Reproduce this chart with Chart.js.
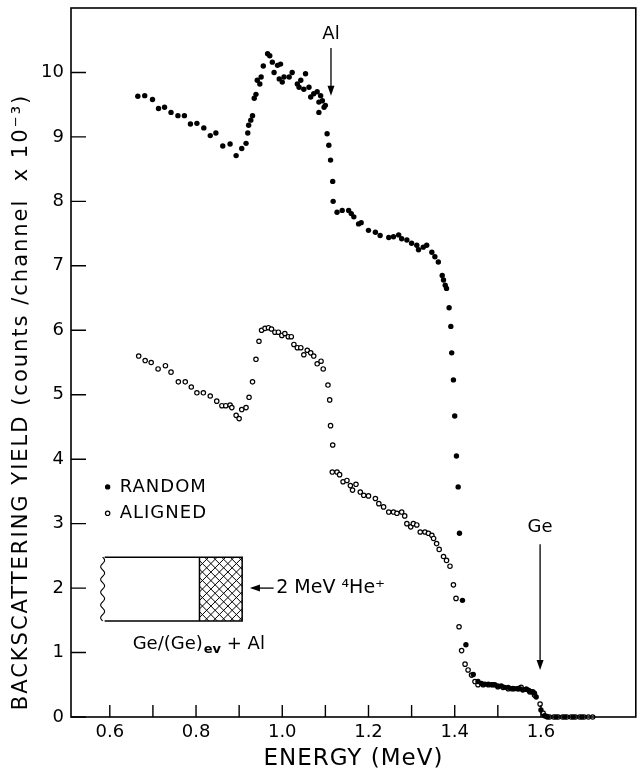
<!DOCTYPE html>
<html>
<head>
<meta charset="utf-8">
<title>Backscattering yield vs energy</title>
<script src="https://cdn.jsdelivr.net/npm/chart.js@4.4.1/dist/chart.umd.min.js"></script>
<style>
  body { margin: 0; background: #fff; }
  canvas { display: block; }
</style>
</head>
<body>
<canvas id="chart" width="641" height="771"></canvas>
<script>
// data //

// random orientation (filled dots)
const randomEnergy = [0.665, 0.681, 0.699, 0.713, 0.727, 0.742, 0.758, 0.773, 0.787, 0.802, 0.818, 0.833, 0.846, 0.862, 0.879, 0.893,
  0.906, 0.916, 0.920, 0.922, 0.927, 0.931, 0.935, 0.939, 0.942, 0.948, 0.951, 0.956, 0.966, 0.971, 0.977, 0.981, 0.989, 0.993,
  0.996, 1.000, 1.004, 1.016, 1.023, 1.035, 1.039, 1.043, 1.050, 1.054, 1.062, 1.066, 1.073, 1.081, 1.085, 1.085, 1.089, 1.093,
  1.097, 1.100, 1.104, 1.108, 1.112, 1.117, 1.118, 1.127, 1.139, 1.154, 1.160, 1.166, 1.177, 1.183, 1.200, 1.216, 1.227, 1.247,
  1.258, 1.270, 1.277, 1.289, 1.300, 1.312, 1.316, 1.327, 1.335, 1.347, 1.354, 1.362, 1.371, 1.374, 1.378, 1.381, 1.387, 1.391,
  1.393, 1.397, 1.400, 1.404, 1.408, 1.411, 1.418, 1.426, 1.443, 1.454, 1.462, 1.470, 1.478, 1.485, 1.493, 1.500, 1.508, 1.516,
  1.524, 1.531, 1.539, 1.547, 1.551, 1.558, 1.566, 1.572, 1.578, 1.585, 1.589, 1.600, 1.608, 1.615, 1.635, 1.655, 1.675, 1.695]
const randomYield = [9.63, 9.64, 9.58, 9.44, 9.46, 9.38, 9.33, 9.33, 9.20, 9.21, 9.14, 9.02, 9.06, 8.86, 8.89, 8.71,
  8.82, 8.90, 9.06, 9.18, 9.26, 9.33, 9.60, 9.66, 9.88, 9.82, 9.93, 10.10, 10.29, 10.26, 10.16, 10.00, 10.11, 9.90,
  10.13, 9.85, 9.93, 9.93, 10.00, 9.82, 9.77, 9.88, 9.74, 9.98, 9.77, 9.62, 9.67, 9.70, 9.54, 9.38, 9.64, 9.56,
  9.46, 9.49, 9.05, 8.87, 8.64, 8.31, 8.00, 7.83, 7.86, 7.86, 7.81, 7.76, 7.65, 7.67, 7.55, 7.52, 7.47, 7.44,
  7.45, 7.48, 7.42, 7.40, 7.35, 7.32, 7.25, 7.29, 7.32, 7.21, 7.14, 7.06, 6.85, 6.78, 6.70, 6.65, 6.35, 6.06,
  5.65, 5.23, 4.67, 4.05, 3.57, 2.85, 1.81, 1.12, 0.66, 0.55, 0.52, 0.51, 0.51, 0.50, 0.50, 0.48, 0.48, 0.46,
  0.46, 0.44, 0.44, 0.44, 0.44, 0.42, 0.43, 0.41, 0.39, 0.37, 0.31, 0.11, 0.02, 0, 0, 0, 0, 0]

// aligned (open circles)
const alignedEnergy = [0.667, 0.682, 0.696, 0.712, 0.729, 0.742, 0.759, 0.775, 0.789, 0.802, 0.817, 0.833, 0.848, 0.860, 0.869, 0.879,
  0.883, 0.893, 0.900, 0.906, 0.916, 0.923, 0.931, 0.939, 0.946, 0.952, 0.960, 0.968, 0.975, 0.983, 0.991, 0.999, 1.006, 1.014,
  1.021, 1.027, 1.035, 1.043, 1.050, 1.058, 1.066, 1.073, 1.081, 1.090, 1.095, 1.106, 1.110, 1.112, 1.117, 1.116, 1.127, 1.133,
  1.141, 1.150, 1.158, 1.163, 1.171, 1.181, 1.189, 1.200, 1.216, 1.224, 1.235, 1.247, 1.258, 1.266, 1.277, 1.284, 1.289, 1.298,
  1.304, 1.312, 1.320, 1.331, 1.339, 1.347, 1.351, 1.358, 1.364, 1.374, 1.381, 1.389, 1.397, 1.403, 1.410, 1.416, 1.424, 1.431,
  1.439, 1.447, 1.454, 1.466, 1.478, 1.489, 1.500, 1.512, 1.524, 1.535, 1.547, 1.554, 1.566, 1.574, 1.581, 1.585, 1.598, 1.605,
  1.612, 1.620, 1.630, 1.640, 1.650, 1.660, 1.670, 1.680, 1.690, 1.700, 1.710, 1.720]
const alignedYield = [5.60, 5.53, 5.50, 5.40, 5.45, 5.35, 5.20, 5.20, 5.12, 5.03, 5.03, 4.98, 4.90, 4.83, 4.83, 4.84,
  4.80, 4.68, 4.63, 4.77, 4.80, 4.96, 5.20, 5.55, 5.83, 6.00, 6.03, 6.04, 6.02, 5.97, 5.97, 5.92, 5.95, 5.90,
  5.90, 5.78, 5.73, 5.73, 5.62, 5.69, 5.65, 5.60, 5.48, 5.52, 5.40, 5.15, 4.92, 4.52, 4.22, 3.80, 3.80, 3.76,
  3.65, 3.67, 3.59, 3.52, 3.61, 3.49, 3.44, 3.43, 3.39, 3.31, 3.26, 3.18, 3.18, 3.16, 3.18, 3.12, 3.00, 2.95,
  3.00, 2.98, 2.87, 2.87, 2.85, 2.82, 2.77, 2.69, 2.60, 2.49, 2.43, 2.34, 2.05, 1.84, 1.40, 1.03, 0.82, 0.73,
  0.65, 0.55, 0.50, 0.50, 0.50, 0.50, 0.47, 0.46, 0.44, 0.44, 0.44, 0.46, 0.43, 0.39, 0.39, 0.34, 0.20, 0.06,
  0.01, 0, 0, 0, 0, 0, 0, 0, 0, 0, 0, 0]

// axes
const xTickLabels = [0.6, 0.8, 1.0, 1.2, 1.4, 1.6]
const xTickMarks = [0.6, 0.7, 0.8, 0.9, 1.0, 1.1, 1.2, 1.3, 1.4, 1.5, 1.6]
const yTickLabels = [0, 1, 2, 3, 4, 5, 6, 7, 8, 9, 10]

const xTitle = "ENERGY (MeV)"
const yTitle = "BACKSCATTERING YIELD (counts /channel  x 10\u207B\u00B3)"
const seriesNames = ["RANDOM", "ALIGNED"]

const FONT = "'DejaVu Sans', sans-serif"

function toPoints(xs, ys) {
    return xs.map((x, i) => ({ x: x, y: ys[i] }))
}

// small arrow helper (vertical or horizontal)
function arrowHead(ctx, x, y, dir) {
    ctx.beginPath()
    if (dir === "down") {
        ctx.moveTo(x, y); ctx.lineTo(x - 3.5, y - 10); ctx.lineTo(x + 3.5, y - 10)
    } else {
        ctx.moveTo(x, y); ctx.lineTo(x + 10, y - 3.5); ctx.lineTo(x + 10, y + 3.5)
    }
    ctx.closePath()
    ctx.fill()
}

// everything the library does not draw by itself: frame, inward ticks, titles, notes
const extras = {
    id: "extras",
    afterDatasetsDraw(chart) {
        const ctx = chart.ctx
        const xs = chart.scales.x
        const ys = chart.scales.y
        const area = chart.chartArea
        const px = v => xs.getPixelForValue(v)
        const py = v => ys.getPixelForValue(v)

        ctx.save()
        ctx.strokeStyle = "#000"
        ctx.fillStyle = "#000"
        ctx.lineWidth = 1.6

        // frame
        ctx.strokeRect(area.left, area.top, area.right - area.left, area.bottom - area.top)

        // ticks pointing inward
        ctx.lineWidth = 1.4
        ctx.beginPath()
        xTickMarks.forEach(v => {
            ctx.moveTo(px(v), area.bottom)
            ctx.lineTo(px(v), area.bottom - 12)
        })
        yTickLabels.forEach(v => {
            ctx.moveTo(area.left, py(v))
            ctx.lineTo(area.left + 15, py(v))
        })
        ctx.stroke()

        // axis titles
        ctx.letterSpacing = "1px"
        ctx.font = "23px " + FONT
        ctx.textAlign = "center"
        ctx.textBaseline = "middle"
        ctx.fillText(xTitle, (area.left + area.right) / 2, 759)

        ctx.save()
        ctx.letterSpacing = "2px"
        ctx.font = "21px " + FONT
        ctx.translate(22, 402)
        ctx.rotate(-Math.PI / 2)
        ctx.fillText(yTitle, 0, 0)
        ctx.restore()

        // legend
        ctx.letterSpacing = "1px"
        ctx.font = "18px " + FONT
        ctx.textAlign = "left"
        ctx.beginPath()
        ctx.arc(px(0.595), py(3.57), 2.7, 0, Math.PI * 2)
        ctx.fill()
        ctx.fillText(seriesNames[0], px(0.623), py(3.57))
        ctx.beginPath()
        ctx.lineWidth = 1.2
        ctx.arc(px(0.595), py(3.16), 2.2, 0, Math.PI * 2)
        ctx.stroke()
        ctx.fillText(seriesNames[1], px(0.623), py(3.16))

        // Al and Ge edge markers
        ctx.letterSpacing = "0px"
        ctx.font = "18px " + FONT
        ctx.textAlign = "center"
        ctx.fillText("Al", px(1.113), py(10.59))
        ctx.fillText("Ge", px(1.598), py(2.95))
        ctx.lineWidth = 1.3
        ctx.beginPath()
        ctx.moveTo(px(1.113), py(10.38))
        ctx.lineTo(px(1.113), py(9.7))
        ctx.moveTo(px(1.598), py(2.68))
        ctx.lineTo(px(1.598), py(0.8))
        ctx.stroke()
        arrowHead(ctx, px(1.113), py(9.64), "down")
        arrowHead(ctx, px(1.598), py(0.73), "down")

        // sample sketch: Ge substrate with Al cap (hatched)
        const bx0 = px(0.588), bx1 = px(0.808), bx2 = px(0.907)
        const by0 = py(2.48), by1 = py(1.49)
        ctx.lineWidth = 1.5
        ctx.beginPath()
        ctx.moveTo(bx0, by0); ctx.lineTo(bx2, by0); ctx.lineTo(bx2, by1); ctx.lineTo(bx0, by1)
        ctx.moveTo(bx1, by0); ctx.lineTo(bx1, by1)
        ctx.stroke()
        // wavy cut on the left
        ctx.lineWidth = 1.1
        ctx.beginPath()
        for (let t = 0; t <= 1.0001; t += 0.02) {
            const yy = by0 + t * (by1 - by0)
            const xx = bx0 - 2 + 2 * Math.sin(t * Math.PI * 10)
            if (t === 0) ctx.moveTo(xx, yy); else ctx.lineTo(xx, yy)
        }
        ctx.stroke()
        // cross hatch
        ctx.save()
        ctx.beginPath()
        ctx.rect(bx1, by0, bx2 - bx1, by1 - by0)
        ctx.clip()
        ctx.lineWidth = 1
        ctx.beginPath()
        for (let k = -80; k < 80; k += 8.5) {
            ctx.moveTo(bx1 + k, by0); ctx.lineTo(bx1 + k + (by1 - by0), by1)
            ctx.moveTo(bx1 + k, by1); ctx.lineTo(bx1 + k + (by1 - by0), by0)
        }
        ctx.stroke()
        ctx.restore()

        // beam arrow and label
        const ay = py(2.0)
        ctx.lineWidth = 1.3
        ctx.beginPath()
        ctx.moveTo(px(0.93), ay)
        ctx.lineTo(px(0.98), ay)
        ctx.stroke()
        arrowHead(ctx, px(0.925), ay, "left")
        ctx.textAlign = "left"
        ctx.font = "19px " + FONT
        ctx.fillText("2 MeV \u2074He\u207A", px(0.986), ay)

        // Ge/(Ge)ev + Al
        let tx = px(0.653)
        const ty = py(1.12)
        ctx.font = "18px " + FONT
        ctx.fillText("Ge/(Ge)", tx, ty)
        tx += ctx.measureText("Ge/(Ge)").width
        ctx.font = "bold 13px " + FONT
        ctx.fillText("ev", tx + 1, ty + 5)
        tx += ctx.measureText("ev").width + 1
        ctx.font = "18px " + FONT
        ctx.fillText(" + Al", tx, ty)

        ctx.restore()
    }
}

const chart = document.querySelector("#chart").getContext("2d")

new Chart(chart, {
    type: "scatter",
    data: {
        datasets: [
            {
                label: seriesNames[0],
                data: toPoints(randomEnergy, randomYield),
                pointRadius: 2.7,
                pointBackgroundColor: "#000",
                pointBorderWidth: 0,
                clip: false
            },
            {
                label: seriesNames[1],
                data: toPoints(alignedEnergy, alignedYield),
                pointRadius: 2.2,
                pointBackgroundColor: "#fff",
                pointBorderColor: "#000",
                pointBorderWidth: 1.2,
                clip: false
            }
        ]
    },
    options: {
        responsive: false,
        animation: false,
        layout: { padding: { top: 8, right: 3, left: 0, bottom: 0 } },
        plugins: {
            legend: { display: false },
            tooltip: { enabled: false }
        },
        scales: {
            x: {
                type: "linear",
                min: 0.51,
                max: 1.82,
                grid: { display: false, drawTicks: false },
                border: { display: false },
                afterBuildTicks: (scale) => { scale.ticks = xTickLabels.map(v => ({ value: v })) },
                afterFit: (scale) => {
                    scale.height = 54
                    scale.paddingLeft = 0
                    scale.paddingRight = 0
                },
                ticks: {
                    color: "#000",
                    padding: 5,
                    maxRotation: 0,
                    font: { family: FONT, size: 18 },
                    callback: (v) => Number(v).toFixed(1)
                }
            },
            y: {
                type: "linear",
                min: 0,
                max: 11,
                grid: { display: false, drawTicks: false },
                border: { display: false },
                afterBuildTicks: (scale) => { scale.ticks = yTickLabels.map(v => ({ value: v })) },
                afterFit: (scale) => {
                    scale.width = 71
                    // labels never reach the ends of this axis, so no extra room is needed
                    scale.paddingTop = 0
                    scale.paddingBottom = 0
                },
                ticks: {
                    color: "#000",
                    padding: 7,
                    font: { family: FONT, size: 18 },
                    callback: (v) => String(v)
                }
            }
        }
    },
    plugins: [extras]
})
</script>
</body>
</html>
